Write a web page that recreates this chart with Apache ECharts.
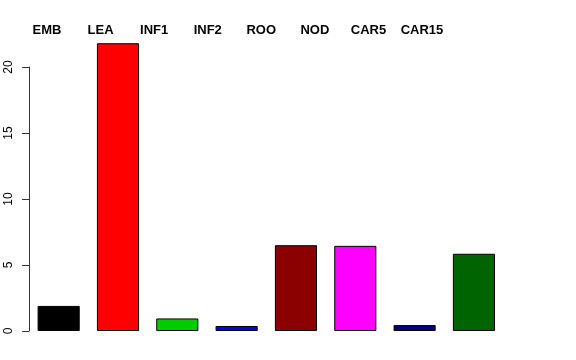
<!DOCTYPE html>
<html><head><meta charset="utf-8">
<script src="https://cdn.jsdelivr.net/npm/echarts@6/dist/echarts.min.js"></script>
<style>html,body{margin:0;padding:0;background:#fff}#c{width:576px;height:360px}</style>
</head><body><div id="c"></div>
<script>
const categories = ['EMB','LEA','INF1','INF2','ROO','NOD','CAR5','CAR15'];
const values = [1.9, 21.8, 0.95, 0.38, 6.5, 6.45, 0.45, 5.85];
const colors = ['#000000','#FF0000','#00CD00','#0000FF','#8B0000','#FF00FF','#000080','#006400'];
const yTicks = [0, 5, 10, 15, 20];

const chart = echarts.init(document.getElementById('c'), null, {renderer:'canvas'});
const font = 'Liberation Sans, Arial, Helvetica, sans-serif';
chart.setOption({
  animation: false,
  backgroundColor: '#fff',
  grid: [
    {left: 29, right: 72.4, top: 40.6, bottom: 29},
    {left: 29, right: 72.4, top: 67, bottom: 29},
    {left: 20.2, right: 127.2, top: 30.5, bottom: 29}
  ],
  xAxis: [
    {gridIndex: 0, type: 'category', data: categories, show: false},
    {gridIndex: 1, type: 'category', data: categories, show: false},
    {gridIndex: 2, type: 'category', data: categories, position: 'top',
     axisLine: {show: false}, axisTick: {show: false},
     axisLabel: {margin: 0, verticalAlign: 'middle', fontFamily: font, fontSize: 13, fontWeight: 'bold', color: '#000', interval: 0}}
  ],
  yAxis: [
    {gridIndex: 0, type: 'value', min: 0, max: 22, show: false},
    {gridIndex: 1, type: 'value', min: yTicks[0], max: yTicks[yTicks.length-1], interval: 5,
     axisLine: {show: true, lineStyle: {color: '#333', width: 1}},
     axisTick: {show: true, length: 7, lineStyle: {color: '#333'}},
     splitLine: {show: false},
     axisLabel: {rotate: 90, margin: 14, fontFamily: font, fontSize: 12, color: '#000'}},
    {gridIndex: 2, type: 'value', show: false}
  ],
  series: [{
    type: 'bar',
    xAxisIndex: 0, yAxisIndex: 0,
    barWidth: '71%',
    data: values.map((v, i) => ({value: v, itemStyle: {color: colors[i]}})),
    itemStyle: {borderColor: '#000', borderWidth: 1}
  }]
});
</script></body></html>
